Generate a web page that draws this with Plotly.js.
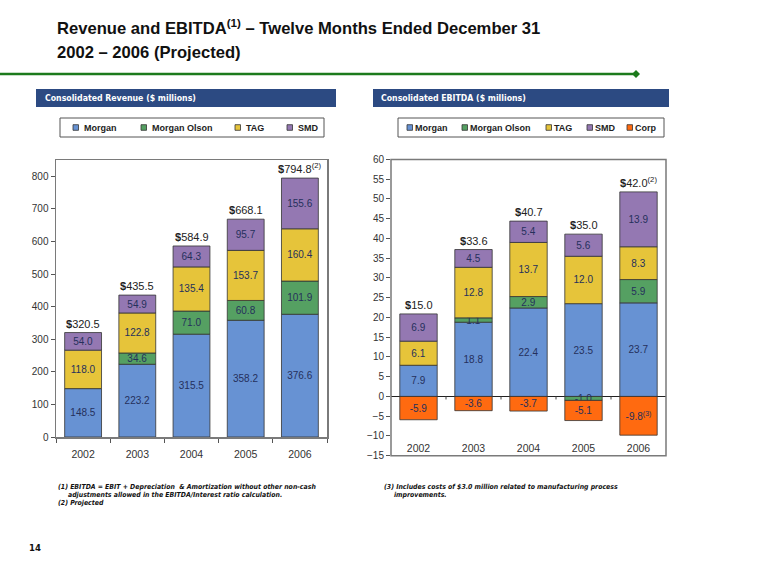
<!DOCTYPE html>
<html><head><meta charset="utf-8">
<script src="https://cdn.plot.ly/plotly-3.0.1.min.js"></script>
<style>html,body{margin:0;padding:0;background:#fff;} #chart{width:758px;height:587px;}</style>
</head><body><div id="chart"></div>
<script>
// ---- data ----
const years = ['2002', '2003', '2004', '2005', '2006'];

const revMorgan      = [148.5, 223.2, 315.5, 358.2, 376.6];
const revMorganOlson = [null, 34.6, 71.0, 60.8, 101.9];
const revTAG         = [118.0, 122.8, 135.4, 153.7, 160.4];
const revSMD         = [54.0, 54.9, 64.3, 95.7, 155.6];
const revTotal       = [320.5, 435.5, 584.9, 668.1, 794.8];
const revTotalNote   = ['', '', '', '', '(2)'];

const ebMorgan      = [7.9, 18.8, 22.4, 23.5, 23.7];
const ebMorganOlson = [null, 1.1, 2.9, -1.0, 5.9];
const ebTAG         = [6.1, 12.8, 13.7, 12.0, 8.3];
const ebSMD         = [6.9, 4.5, 5.4, 5.6, 13.9];
const ebCorp        = [-5.9, -3.6, -3.7, -5.1, -9.8];
const ebCorpNote    = ['', '', '', '', '(3)'];
const ebTotal       = [15.0, 33.6, 40.7, 35.0, 42.0];
const ebTotalNote   = ['', '', '', '', '(2)'];

// ---- styles ----
const COLORS = {Morgan: '#6792D3', 'Morgan Olson': '#55A062', TAG: '#E6C43A', SMD: '#9478B2', Corp: '#FF6A10'};
const W = 758, H = 587;
const px = v => v / W;
const py = v => 1 - v / H;
const COND = 'Liberation Sans Narrow, DejaVu Sans Condensed, sans-serif';
const SANS = 'Liberation Sans, Arial, sans-serif';
const FRAME = '#7a7a7a';

function fmt(v, note) {
  if (v === null || v === undefined) return '';
  return v.toFixed(1) + (note ? '<sup>' + note + '</sup>' : '');
}

function bar(name, vals, xa, ya, notes) {
  return {
    type: 'bar', name: name, x: years, y: vals,
    xaxis: xa, yaxis: ya, showlegend: false,
    marker: {color: COLORS[name], line: {color: '#333', width: 0.8}},
    text: vals.map((v, i) => fmt(v, notes ? notes[i] : '')),
    textposition: 'inside', insidetextanchor: 'middle', textangle: 0,
    constraintext: 'none', cliponaxis: false,
    textfont: {family: SANS, size: 10, color: '#25305C'},
    hoverinfo: 'skip'
  };
}

const revTraces = [
  bar('Morgan', revMorgan, 'x', 'y'),
  bar('Morgan Olson', revMorganOlson, 'x', 'y'),
  bar('TAG', revTAG, 'x', 'y'),
  bar('SMD', revSMD, 'x', 'y')
];
const ebTraces = [
  bar('Morgan', ebMorgan, 'x2', 'y2'),
  bar('Morgan Olson', ebMorganOlson, 'x2', 'y2'),
  bar('TAG', ebTAG, 'x2', 'y2'),
  bar('SMD', ebSMD, 'x2', 'y2'),
  bar('Corp', ebCorp, 'x2', 'y2', ebCorpNote)
];
const traces = revTraces.concat(ebTraces);

function posTop(series, i) {
  return series.reduce((s, a) => s + (a[i] > 0 ? a[i] : 0), 0);
}

const annotations = [];
const shapes = [];
years.forEach((yr, i) => {
  // category axes: annotation x is the category index
  annotations.push({
    xref: 'x', yref: 'y', x: i, y: posTop([revMorgan, revMorganOlson, revTAG, revSMD], i),
    yanchor: 'bottom', showarrow: false, yshift: 1,
    text: '<b>$</b>' + revTotal[i].toFixed(1) + (revTotalNote[i] ? '<sup>' + revTotalNote[i] + '</sup>' : ''),
    font: {family: SANS, size: 11, color: '#222'}
  });
  annotations.push({
    xref: 'x2', yref: 'y2', x: i, y: posTop([ebMorgan, ebMorganOlson, ebTAG, ebSMD], i),
    yanchor: 'bottom', showarrow: false, yshift: 1,
    text: '<b>$</b>' + ebTotal[i].toFixed(1) + (ebTotalNote[i] ? '<sup>' + ebTotalNote[i] + '</sup>' : ''),
    font: {family: SANS, size: 11, color: '#222'}
  });
  // small ticks on the EBITDA zero line, at the boundaries between categories
  if (i < years.length - 1) {
    shapes.push({type: 'line', xref: 'x2', yref: 'y2', x0: i + 0.5, x1: i + 0.5,
      ysizemode: 'pixel', yanchor: 0, y0: 0, y1: -3, line: {color: '#444', width: 1}});
  }
});

function txt(text, x, y, font, extra) {
  return Object.assign({xref: 'paper', yref: 'paper', x: px(x), y: py(y), xanchor: 'left', yanchor: 'middle',
    showarrow: false, text: text, font: font}, extra || {});
}
function rect(x0, x1, y0, y1, fill, line) {
  return {type: 'rect', xref: 'paper', yref: 'paper', x0: px(x0), x1: px(x1), y0: py(y1), y1: py(y0),
    fillcolor: fill, line: line || {width: 0}};
}

// frame of the EBITDA panel
shapes.push({type: 'rect', xref: 'x2 domain', yref: 'y2 domain', x0: 0, x1: 1, y0: 0, y1: 1,
  line: {color: FRAME, width: 1.5}, layer: 'above'});

// page title, rule and panel headers
const titleFont = {family: SANS, size: 16.6, color: '#111'};
annotations.push(txt('<b>Revenue and EBITDA<sup>(1)</sup> – Twelve Months Ended December 31</b>', 55, 27, titleFont));
annotations.push(txt('<b>2002 – 2006 (Projected)</b>', 55, 53, titleFont));
shapes.push({type: 'line', xref: 'paper', yref: 'paper', x0: 0, x1: px(636), y0: py(74), y1: py(74),
  line: {color: '#1C7A1C', width: 2.5}});
shapes.push({type: 'path', xref: 'paper', yref: 'paper', xsizemode: 'pixel', ysizemode: 'pixel',
  xanchor: px(636), yanchor: py(74), path: 'M-4,0L0,4L4,0L0,-4Z', fillcolor: '#1C7A1C', line: {width: 0}});
shapes.push(rect(36, 336, 89, 107, '#2C4A82'));
shapes.push(rect(373, 669, 89, 107, '#2C4A82'));
const headFont = {family: COND, size: 8.7, color: '#fff'};
annotations.push(txt('<b>Consolidated Revenue ($ millions)</b>', 43, 98, headFont));
annotations.push(txt('<b>Consolidated EBITDA ($ millions)</b>', 379, 98, headFont));

// legends (boxed, one per panel), entries taken from the traces
function legendBox(trs, box, symX, textDx) {
  shapes.push(rect(box[0], box[1], box[2], box[3], '#fff', {color: '#555', width: 1}));
  const yc = (box[2] + box[3]) / 2;
  trs.forEach((t, k) => {
    shapes.push(rect(symX[k], symX[k] + 5.5, yc - 2.8, yc + 2.8, t.marker.color, {color: '#333', width: 0.8}));
    annotations.push(txt('<b>' + t.name + '</b>', symX[k] + textDx, yc, {family: SANS, size: 9, color: '#222'}));
  });
}
legendBox(revTraces, [60, 324, 118, 137], [73, 141, 235, 287], 8.5);
legendBox(ebTraces, [398, 664, 118, 137], [407, 462, 546, 587, 627], 6);

// footnotes
const fnFont = {family: COND, size: 6.9, color: '#111'};
annotations.push(txt('<b><i>(1) EBITDA = EBIT + Depreciation  & Amortization without other non-cash</i></b>', 56, 487, fnFont));
annotations.push(txt('<b><i>adjustments allowed in the EBITDA/Interest ratio calculation.</i></b>', 66, 495, fnFont));
annotations.push(txt('<b><i>(2) Projected</i></b>', 56, 503, fnFont));
annotations.push(txt('<b><i>(3) Includes costs of $3.0 million related to manufacturing process</i></b>', 382, 487, fnFont));
annotations.push(txt('<b><i>improvements.</i></b>', 392, 495, fnFont));
annotations.push(txt('<b>14</b>', 27, 547, {family: COND, size: 9.5, color: '#111'}));

const axisLine = {showline: true, linecolor: FRAME, linewidth: 1.5, mirror: true, showgrid: false, zeroline: false};
const tickFont = {family: SANS, size: 10, color: '#333'};

const layout = {
  width: W, height: H, margin: {l: 0, r: 0, t: 0, b: 0},
  paper_bgcolor: '#fff', plot_bgcolor: '#fff',
  barmode: 'relative', bargap: 0.32,
  font: {family: SANS, size: 10, color: '#333'},
  showlegend: false,
  xaxis: Object.assign({}, axisLine, {domain: [px(56), px(327)], anchor: 'y', type: 'category',
    ticks: 'outside', tickson: 'boundaries', ticklen: 4, tickcolor: '#555', ticklabelstandoff: 7,
    tickfont: Object.assign({}, tickFont, {size: 10.5})}),
  yaxis: Object.assign({}, axisLine, {domain: [py(437), py(160)], anchor: 'x', range: [0, 850], tick0: 0, dtick: 100,
    ticks: 'outside', ticklen: 4, tickcolor: '#555', tickfont: tickFont}),
  // EBITDA category labels sit low, inside the frame
  xaxis2: {domain: [px(391), px(666)], anchor: 'free', position: py(440), type: 'category',
    showline: false, showgrid: false, zeroline: false, ticks: '',
    tickfont: Object.assign({}, tickFont, {size: 10.5})},
  yaxis2: {domain: [py(455.7), py(159.5)], anchor: 'x2', range: [-15, 60], tick0: 0, dtick: 5,
    showline: false, showgrid: false, ticks: 'outside', ticklen: 4, tickcolor: '#555', tickfont: tickFont,
    zeroline: true, zerolinecolor: '#222', zerolinewidth: 1},
  annotations: annotations,
  shapes: shapes
};

Plotly.newPlot('chart', traces, layout, {staticPlot: true, displayModeBar: false});
</script>
</body></html>
